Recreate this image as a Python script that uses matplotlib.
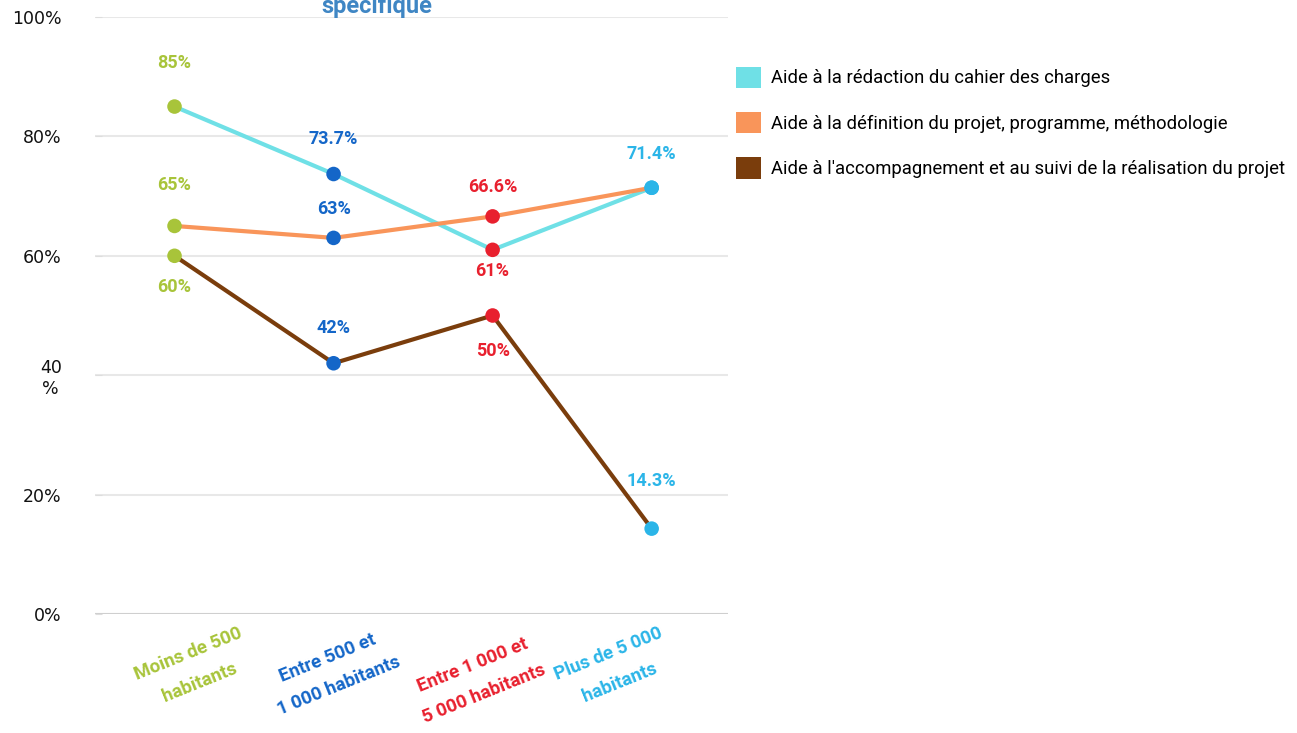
import matplotlib.pyplot as plt
from matplotlib.patches import Patch

categories = ["Moins de 500\nhabitants", "Entre 500 et\n1 000 habitants",
              "Entre 1 000 et\n5 000 habitants", "Plus de 5 000\nhabitants"]
cat_colors = ["#a8c43a", "#1466c8", "#e8202e", "#2bb5e8"]

redaction = [85, 73.7, 61, 71.4]
definition = [65, 63, 66.6, 71.4]
accompagnement = [60, 42, 50, 14.3]

series_names = ["Aide à la rédaction du cahier des charges",
                "Aide à la définition du projet, programme, méthodologie",
                "Aide à l'accompagnement et au suivi de la réalisation du projet"]
series_colors = ["#6fe0e6", "#f9955a", "#7a3d0c"]

yticks = [0, 20, 40, 60, 80, 100]
ytick_labels = ["0%", "20%", "40\n%", "60%", "80%", "100%"]

# étiquettes : (série, catégorie, texte, décalage vertical en px)
point_labels = [
    (redaction, 0, "85%", 44), (definition, 0, "65%", 41), (accompagnement, 0, "60%", -31),
    (redaction, 1, "73.7%", 35), (definition, 1, "63%", 29), (accompagnement, 1, "42%", 35),
    (definition, 2, "66.6%", 29), (redaction, 2, "61%", -21), (accompagnement, 2, "50%", -35),
    (redaction, 3, "71.4%", 34), (accompagnement, 3, "14.3%", 48),
]

bold_font = "Roboto"

fig = plt.figure(figsize=(12.97, 7.33), dpi=100)
ax = fig.add_axes([95 / 1297, 119 / 733, 633 / 1297, 597 / 733])

x = list(range(len(categories)))
for vals, col in zip([redaction, definition, accompagnement], series_colors):
    ax.plot(x, vals, color=col, lw=3, zorder=3)
    ax.scatter(x, vals, s=110, c=cat_colors, zorder=4, edgecolors="none")

for vals, i, txt, dy in point_labels:
    ax.annotate(txt, (i, vals[i]), xytext=(0, dy * 0.72), textcoords="offset points",
                ha="center", va="center", color=cat_colors[i], fontsize=13,
                fontweight="bold", family=bold_font)

ax.set_xlim(-0.5, 3.48)
ax.set_ylim(0, 100)
ax.set_yticks(yticks)
ax.set_yticklabels(ytick_labels, fontsize=12.5, family="DejaVu Sans", color="#111111")
for lab in ax.get_yticklabels():
    lab.set_multialignment("center")
ax.tick_params(axis="y", length=5, color="#dddddd", pad=24, direction="in")
ax.set_xticks([])
for s in ax.spines.values():
    s.set_visible(False)
for t in yticks:
    ax.axhline(t, color="#cfcfcf" if t == 0 else "#e8e8e8", lw=1.5, zorder=1)

# libellés des catégories sous l'axe
label_dx = [19, 0, -14, -38]
label_dy = [-54, -58, -66, -54]
for i, (lab, col) in enumerate(zip(categories, cat_colors)):
    ax.annotate(lab, (i, 0), xytext=(label_dx[i] * 0.72, label_dy[i] * 0.72),
                textcoords="offset points", ha="center", va="center",
                rotation=22, color=col, fontsize=13.5, fontweight="bold",
                family=bold_font, linespacing=1.9, annotation_clip=False)

fig.text(377 / 1297, 1 - 6 / 733, "spécifique", ha="center", va="center",
         color="#3f86c4", fontsize=17, fontweight="bold", family=bold_font)

handles = [Patch(facecolor=c, edgecolor="none") for c in series_colors]
fig.legend(handles, series_names, loc="upper left",
           bbox_to_anchor=(719 / 1297, 1 - 50 / 733),
           frameon=False, handlelength=1.4, handleheight=1.4,
           handletextpad=0.5, labelspacing=1.3,
           prop={"family": "Roboto", "size": 13.3})

fig.savefig("out.png", dpi=100)
